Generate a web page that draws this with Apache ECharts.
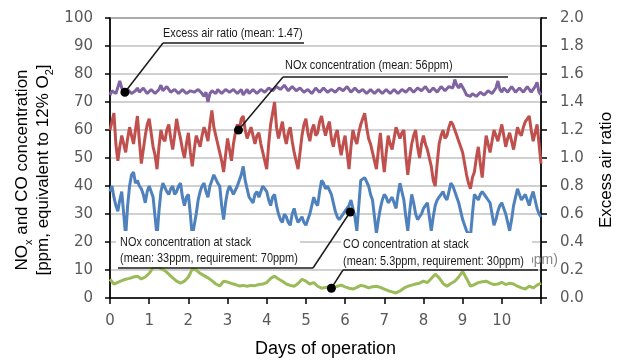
<!DOCTYPE html>
<html><head><meta charset="utf-8">
<script src="https://cdn.jsdelivr.net/npm/echarts@6/dist/echarts.min.js"></script>
<style>html,body{margin:0;padding:0;background:#fff}#c{width:619px;height:363px}</style>
</head><body><div id="c"></div>
<script>
// Sampling steps (days) of the hand-read series
const step = 0.05;      // excess air, NOx, NOx at stack
const coStep = 0.1;     // CO at stack
// Excess air ratio (right axis), one row per day
const excessAir = [
1.45,1.48,1.49,1.46,1.47,1.55,1.50,1.47,1.46,1.49,1.48,1.46,1.45,1.48,1.50,1.47,1.47,1.50,1.49,1.46,
1.46,1.49,1.48,1.46,1.45,1.49,1.52,1.48,1.47,1.51,1.50,1.47,1.46,1.49,1.49,1.46,1.47,1.49,1.48,1.46,
1.46,1.48,1.49,1.47,1.47,1.49,1.48,1.46,1.44,1.47,1.40,1.46,1.48,1.47,1.46,1.49,1.49,1.46,1.47,1.49,
1.50,1.47,1.46,1.49,1.48,1.46,1.47,1.49,1.45,1.47,1.49,1.46,1.47,1.49,1.48,1.46,1.46,1.49,1.50,1.47,
1.47,1.50,1.51,1.48,1.48,1.51,1.52,1.49,1.49,1.52,1.51,1.48,1.48,1.51,1.50,1.48,1.47,1.50,1.49,1.47,
1.46,1.49,1.48,1.46,1.47,1.50,1.49,1.47,1.47,1.50,1.50,1.47,1.46,1.49,1.49,1.47,1.47,1.50,1.51,1.48,
1.48,1.51,1.50,1.47,1.47,1.50,1.49,1.47,1.46,1.49,1.49,1.46,1.47,1.49,1.48,1.46,1.46,1.49,1.48,1.46,
1.47,1.49,1.49,1.46,1.47,1.49,1.48,1.46,1.46,1.49,1.49,1.47,1.47,1.50,1.50,1.47,1.48,1.50,1.51,1.48,
1.48,1.51,1.50,1.47,1.47,1.50,1.49,1.47,1.48,1.51,1.50,1.48,1.49,1.51,1.52,1.50,1.56,1.52,1.50,1.53,
1.52,1.48,1.45,1.44,1.44,1.46,1.46,1.44,1.45,1.47,1.47,1.45,1.46,1.48,1.48,1.46,1.47,1.50,1.55,1.49,
1.47,1.50,1.49,1.47,1.48,1.51,1.50,1.47,1.47,1.50,1.49,1.47,1.48,1.51,1.50,1.47,1.48,1.51,1.54,1.47,
1.45];
// NOx concentration (ppm)
const noxConc = [
60,63,66,55,49,54,58,55,52,57,61,58,55,60,65,56,48,53,58,62,
64,59,54,51,46,54,60,57,56,60,62,57,53,58,64,60,57,53,50,55,
59,52,47,53,58,56,54,58,61,59,56,62,67,61,58,55,52,49,45,51,
57,53,49,55,59,62,60,64,65,60,57,59,61,58,55,58,59,55,52,49,
46,55,62,66,70,61,57,60,63,58,55,59,61,56,52,49,46,52,58,62,
64,59,56,60,62,58,59,63,65,61,58,61,63,57,54,58,60,55,51,55,
58,52,46,54,60,57,55,59,62,64,66,61,57,55,52,49,46,53,59,51,
45,52,58,55,53,57,61,59,57,59,60,51,44,50,55,58,60,54,50,55,
58,55,53,50,47,42,40,48,55,58,60,57,58,61,63,62,60,58,56,54,
52,48,44,41,39,43,45,50,54,48,43,51,58,55,52,56,60,58,56,59,
62,58,54,57,59,56,53,57,61,59,58,61,63,64,65,60,56,59,62,55,
48];
// NOx concentration at stack (ppm)
const noxStack = [
38,40,36,33,31,35,38,30,22,33,40,44,45,41,42,40,39,37,34,38,
40,38,36,29,22,31,38,41,41,38,37,39,40,37,38,40,41,36,33,36,
37,30,22,26,30,35,38,40,41,38,36,40,42,44,44,41,40,33,28,34,
38,40,40,37,37,40,40,44,47,42,39,36,35,34,37,38,36,38,40,40,
38,35,33,36,37,33,30,28,27,30,29,27,26,30,32,29,27,28,29,27,
26,28,30,33,36,34,33,38,42,41,39,40,40,37,34,31,29,28,28,30,
31,32,33,35,35,29,24,33,42,42,43,43,40,37,35,29,23,28,32,35,
37,36,34,35,36,34,32,37,41,38,35,29,24,31,37,34,30,28,28,30,
32,33,34,29,24,29,33,35,36,37,38,36,35,38,41,40,38,36,34,31,
28,26,24,23,22,30,37,36,35,37,38,37,36,35,34,30,26,28,31,33,
34,32,30,27,24,28,33,36,39,37,35,36,37,35,33,36,38,35,32,30,
29];
// CO concentration at stack (ppm), one row per day
const coStack = [
6.7,5.0,5.6,6.2,6.7,7.0,7.5,7.8,6.8,7.5,
8.8,10.8,11.0,10.5,9.8,8.5,7.2,6.0,5.3,6.0,
7.5,10.3,10.0,8.8,8.0,7.2,6.2,5.0,4.3,6.0,
5.7,5.2,4.8,4.3,4.5,4.2,4.5,4.4,4.8,5.0,
5.5,7.0,7.8,6.8,6.0,5.0,4.5,4.2,5.2,6.7,
6.0,5.0,5.5,4.2,3.5,3.8,4.0,3.6,4.2,4.6,
4.0,3.5,3.2,3.8,4.5,4.2,3.6,4.0,4.2,3.8,
3.2,2.6,2.2,1.8,2.5,3.5,4.2,4.6,5.0,5.3,
6.0,5.5,7.0,8.5,7.2,5.2,4.2,5.2,6.0,7.5,
9.5,7.0,4.2,4.8,5.5,5.8,6.0,5.3,4.8,5.0,
5.6,4.8,5.3,5.0,4.2,3.6,3.2,4.2,3.6,4.6,
5.3];
const leftTicks = [0,10,20,30,40,50,60,70,80,90,100];
const rightTicks = [0.0,0.2,0.4,0.6,0.8,1.0,1.2,1.4,1.6,1.8,2.0];
const dayTicks = [0,1,2,3,4,5,6,7,8,9,10];

const pair = (arr, st) => arr.map((v, i) => [Math.round(i * st * 100) / 100, v]);
const chart = echarts.init(document.getElementById('c'), null, {renderer: 'canvas'});
const axisCol = '#000';
const tickFont = {color: '#595959', fontSize: 15, fontFamily: 'DejaVu Sans'};
chart.setOption({
  animation: false,
  grid: {left: 110, right: 78, top: 18, bottom: 61, show: true, borderColor: '#404040', borderWidth: 1.5},
  xAxis: {
    type: 'value', min: 0, max: 11, interval: 1,
    axisLine: {lineStyle: {color: axisCol, width: 1.5}},
    axisTick: {length: 6, lineStyle: {color: axisCol, width: 1.5}},
    axisLabel: Object.assign({margin: 16, formatter: v => dayTicks.includes(v) ? String(v) : ''}, tickFont),
    splitLine: {show: false},
    name: 'Days of operation', nameLocation: 'middle', nameGap: 42,
    nameTextStyle: {fontSize: 18, color: '#000', fontFamily: 'Liberation Sans'}
  },
  yAxis: [{
    type: 'value', min: leftTicks[0], max: leftTicks[leftTicks.length - 1], interval: 10,
    axisLine: {show: true, lineStyle: {color: axisCol, width: 1.5}},
    axisTick: {show: true, length: 5, lineStyle: {color: axisCol, width: 1.5}},
    axisLabel: Object.assign({margin: 17}, tickFont),
    splitLine: {lineStyle: {color: '#c0c0c0', width: 1.5}}
  }, {
    type: 'value', position: 'right', min: rightTicks[0], max: rightTicks[rightTicks.length - 1], interval: 0.2,
    axisLine: {show: true, lineStyle: {color: axisCol, width: 1.5}},
    axisTick: {show: true, length: 6, lineStyle: {color: axisCol, width: 1.5}},
    axisLabel: Object.assign({margin: 19, formatter: v => v.toFixed(1)}, tickFont),
    splitLine: {show: false}
  }],
  series: [
    {name: 'Excess air ratio', type: 'line', yAxisIndex: 1, data: pair(excessAir, step), showSymbol: false, lineStyle: {color: '#8064A2', width: 3}, itemStyle: {color: '#8064A2'}},
    {name: 'NOx concentration', type: 'line', data: pair(noxConc, step), showSymbol: false, lineStyle: {color: '#C0504D', width: 3}, itemStyle: {color: '#C0504D'}},
    {name: 'NOx concentration at stack', type: 'line', data: pair(noxStack, step), showSymbol: false, lineStyle: {color: '#4F81BD', width: 3}, itemStyle: {color: '#4F81BD'}},
    {name: 'CO concentration at stack', type: 'line', data: pair(coStack, coStep), showSymbol: false, lineStyle: {color: '#9BBB59', width: 3}, itemStyle: {color: '#9BBB59'}}
  ]
});

// Annotation anchors in data coordinates
const anchors = {
  excess: {pt: [0.38, 1.47], yi: 1},
  nox: {pt: [3.28, 60], yi: 0},
  noxStack: {pt: [6.13, 30.7], yi: 0},
  co: {pt: [5.65, 3.5], yi: 0}
};
const P = a => chart.convertToPixel({xAxisIndex: 0, yAxisIndex: a.yi}, a.pt);
const ink = '#1a1a1a';
const line = (x1, y1, x2, y2) => ({type: 'line', z: 20, shape: {x1, y1, x2, y2}, style: {stroke: ink, lineWidth: 1.5}});
const dot = p => ({type: 'circle', z: 21, shape: {cx: p[0], cy: p[1], r: 4.5}, style: {fill: '#000'}});
const txt = (x, y, s) => ({type: 'text', z: 20, x, y, scaleX: 0.84,
  style: {text: s, fill: ink, font: '13px Liberation Sans', verticalAlign: 'middle'}});
const pE = P(anchors.excess), pN = P(anchors.nox), pS = P(anchors.noxStack), pC = P(anchors.co);
const leftName = {type: 'text', z: 20, x: 31, y: 170, rotation: Math.PI / 2,
  style: {text: '{a|NO}{s|x}{a| and CO concentration}\n{a|[ppm, equivalent to 12% O}{s|2}{a|]}',
    align: 'center', verticalAlign: 'middle', fill: '#000',
    rich: {a: {fontSize: 17, fontFamily: 'Liberation Sans', lineHeight: 21, fill: '#000', verticalAlign: 'bottom'},
           s: {fontSize: 11, fontFamily: 'Liberation Sans', lineHeight: 21, fill: '#000', verticalAlign: 'bottom', padding: [0, 0, -3, 0]}}}};
const rightName = {type: 'text', z: 20, x: 606, y: 170, rotation: Math.PI / 2,
  style: {text: 'Excess air ratio', align: 'center', verticalAlign: 'middle', fill: '#000', font: '17px Liberation Sans'}};
chart.setOption({graphic: [
  {type: 'rect', z: 10, shape: {x: 116, y: 231, width: 184, height: 36}, style: {fill: '#fff'}},
  {type: 'text', z: 9, x: 526, y: 260, style: {text: 'ppm)', fill: '#888', font: '14px Liberation Sans', verticalAlign: 'middle'}},
  {type: 'rect', z: 10, shape: {x: 341, y: 233, width: 191, height: 34}, style: {fill: '#fff'}},
  txt(163, 33, 'Excess air ratio (mean: 1.47)'),
  line(163, 43, 304, 43), line(163, 43, pE[0], pE[1]), dot(pE),
  txt(285, 65, 'NOx concentration (mean: 56ppm)'),
  line(283, 77, 508, 77), line(283, 77, pN[0], pN[1]), dot(pN),
  txt(120, 242, 'NOx concentration at stack'),
  txt(120, 258, '(mean: 33ppm, requirement: 70ppm)'),
  line(118, 268, 313, 268), line(313, 268, pS[0], pS[1]), dot(pS),
  txt(343, 244, 'CO concentration at stack'),
  txt(343, 261, '(mean: 5.3ppm, requirement: 30ppm)'),
  line(343, 270, 538, 270), line(343, 270, pC[0], pC[1]), dot(pC),
  leftName, rightName
]});
</script>
</body></html>
